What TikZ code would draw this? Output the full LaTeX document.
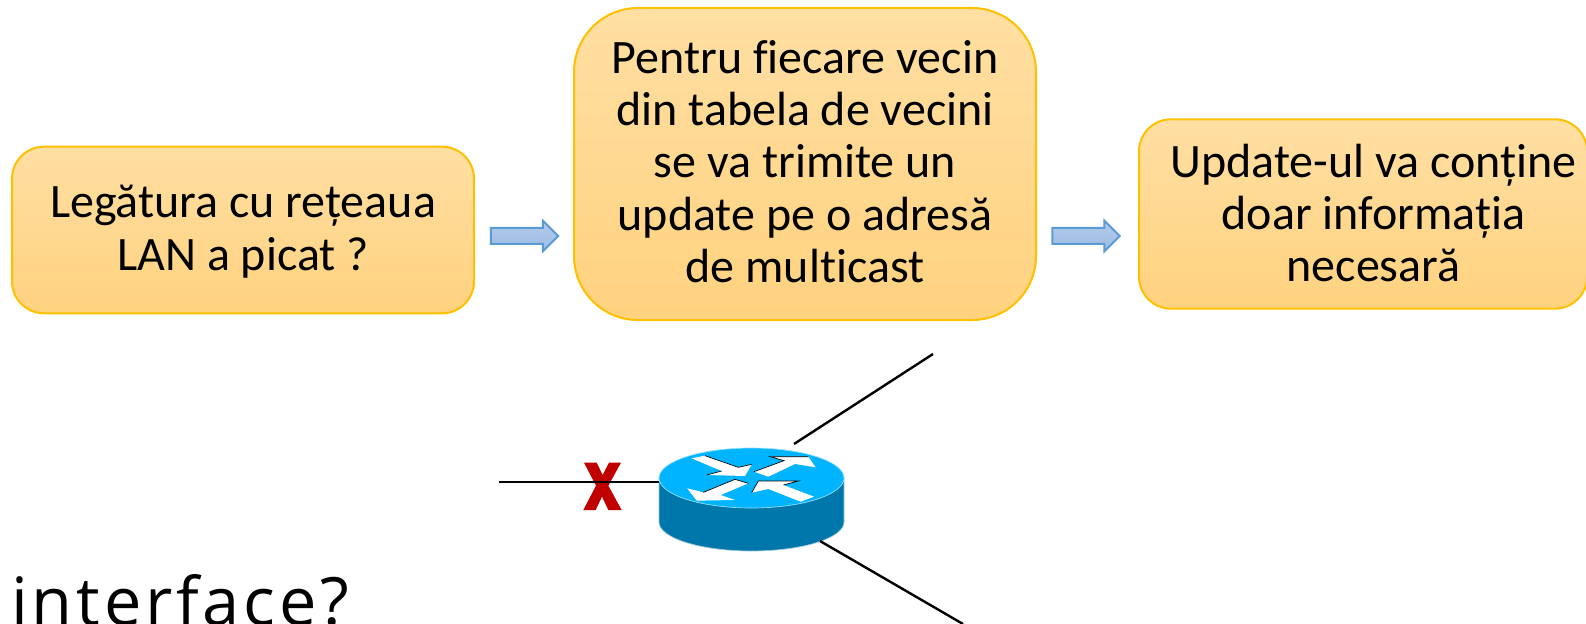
\documentclass[tikz,border=0pt]{standalone}
\usepackage{fontspec}
\usetikzlibrary{shapes.arrows}
\setmainfont{Carlito}[Ligatures={NoCommon}]
\newfontfamily\ifont{Open Sans}[LetterSpace=5.8]
\definecolor{boxline}{HTML}{FFC000}
\definecolor{boxtop}{HTML}{FFDFA3}
\definecolor{boxbot}{HTML}{FFD27F}
\definecolor{arrline}{HTML}{5B9BD5}
\definecolor{arrtop}{HTML}{B3CBEA}
\definecolor{arrbot}{HTML}{9DBBE3}
\definecolor{rtop}{HTML}{00B4FF}
\definecolor{rside}{HTML}{0077AA}
\definecolor{redx}{HTML}{C00000}
\tikzset{
 x=0.75pt,y=-0.75pt,
 flow/.style={draw=boxline,line width=1.5pt,top color=boxtop,bottom color=boxbot,
   rounded corners=#1,inner sep=0pt},
 flowtext/.style={align=center,inner sep=0pt,text=black,
   font=\fontsize{36}{39.3}\selectfont},
 blockarrow/.style={single arrow,draw=arrline,line width=1.5pt,top color=arrtop,bottom color=arrbot,
   minimum height=50.5pt,single arrow head extend=5.5pt,
   single arrow tip angle=90,inner sep=0pt},
 wire/.style={draw=black,line width=1.8pt},
 rarrow/.style={fill=white,draw=none},
}
\newcommand{\shaft}{\rule{0pt}{10.5pt}}
\begin{document}
\begin{tikzpicture}
\useasboundingbox (0,0) rectangle (1586,624);
\clip (0,0) rectangle (1586,624);
\node[flow=24pt,minimum width=346.5pt,minimum height=125pt] (b1) at (243,230) {};
\node[flowtext] (t1) at (243,231.5) {Legătura cu rețeaua\\LAN a picat ?};
\node[flow=48pt,minimum width=346.5pt,minimum height=234pt] (b2) at (805,164) {};
\node[flowtext] (t2) at (805,161.5) {Pentru fiecare vecin\\din tabela de vecini\\se va trimite un\\update pe o adresă\\de multicast};
\node[flow=24pt,minimum width=336pt,minimum height=142pt] (b3) at (1363,214) {};
\node[flowtext] (t3) at (1373.5,213) {Update-ul va conține\\doar informația\\necesară};
\node[blockarrow] (a1) at (520.5,236) {\shaft};
\node[blockarrow] (a2) at (1082,236) {\shaft};
% router body
\node[inner sep=0pt,minimum size=0pt] (router) at (751.5,500) {};
\fill[rside,draw=white!60!rside,line width=0.5pt] (659,478) -- (659,522) arc[start angle=180,end angle=0,x radius=92.5,y radius=29] -- (844,478) -- cycle;
\fill[rtop,draw=white!60!rtop,line width=0.5pt] (751.5,478) ellipse[x radius=92.5,y radius=30];
\begin{scope}[shift={(480,340)},x=0.25pt,y=-0.25pt]
\fill[rarrow] (635,355)--(675,347)--(775,382)--(815,373)--(795,408)--(680,405)--(725,393)--cycle;
\fill[rarrow] (822,395)--(912,362)--(870,350)--(985,350)--(1007,382)--(945,372)--(865,410)--cycle;
\fill[rarrow] (622,445)--(670,457)--(765,418)--(805,430)--(722,465)--(765,480)--(650,482)--cycle;
\fill[rarrow] (815,458)--(835,423)--(955,423)--(910,435)--(1002,470)--(962,485)--(865,447)--cycle;
\draw[black,line width=0.5pt] (675,347)--(775,382)--(815,373) (680,405)--(725,393) (822,395)--(912,362)--(870,350)--(985,350) (670,457)--(765,418)--(805,430) (815,458)--(835,423)--(955,423)--(910,435);
\fill[redx] (312,368)--(350,368)--(368,405)--(387,368)--(423,368)--(385,437)--(425,510)--(385,510)--(366,470)--(347,510)--(310,510)--(348,437)--cycle;
\end{scope}
\coordinate (w1a) at (499,482);
\coordinate (w1b) at (659,482);
\coordinate (w2a) at (794,444);
\coordinate (w2b) at (933,354);
\coordinate (w3a) at (820,541);
\coordinate (w3b) at (963,624);
\draw[wire] (w1a) -- (w1b);
\draw[wire] (w2a) -- (w2b);
\draw[wire] (w3a) -- (w3b);
\node[anchor=base west,inner sep=0pt,font=\ifont\fontsize{50}{60}\selectfont] (iface) at (11,625) {interface?};
\end{tikzpicture}
\end{document}
